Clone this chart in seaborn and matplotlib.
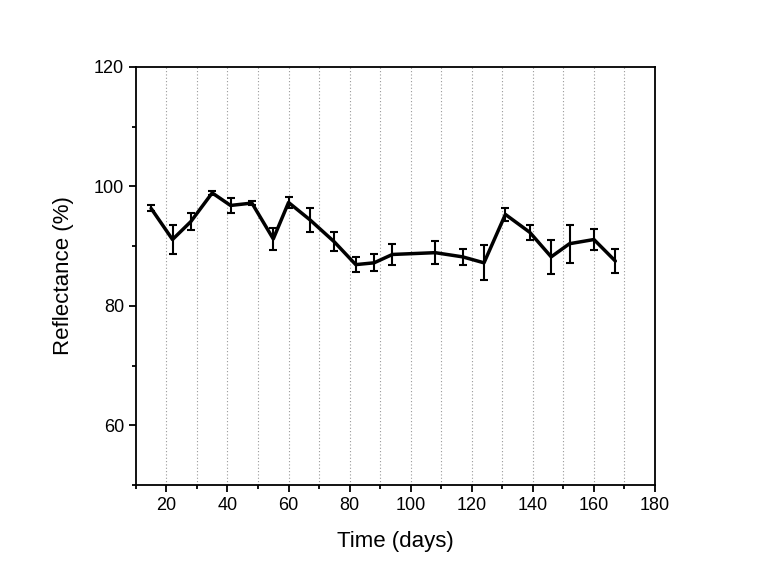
import numpy as np
import pandas as pd
import seaborn as sns
import matplotlib.pyplot as plt
from matplotlib.ticker import MultipleLocator

# measured reflectance over time
days = [15, 22, 28, 35, 41, 48, 55, 60, 67, 75, 82, 88, 94, 108, 117, 124, 131, 139, 146, 152, 160, 167]
reflectance = [96.3, 91.1, 94.1, 98.9, 96.8, 97.2, 91.2, 97.3, 94.4, 90.7, 86.9, 87.2, 88.6,
               88.9, 88.2, 87.2, 95.3, 92.3, 88.2, 90.4, 91.1, 87.5]
errors = [0.5, 2.4, 1.4, 0.3, 1.2, 0.3, 1.8, 0.9, 2.0, 1.6, 1.3, 1.4, 1.7,
          1.9, 1.3, 2.9, 1.1, 1.3, 2.9, 3.2, 1.8, 2.0]

df = pd.DataFrame({"Time": days, "Reflectance": reflectance, "Error": errors})

sns.set_style("ticks")
plt.rcParams['font.family'] = ['Liberation Sans', 'DejaVu Sans']
plt.rcParams['text.color'] = 'black'
plt.rcParams['axes.labelcolor'] = 'black'
plt.rcParams['xtick.color'] = 'black'
plt.rcParams['ytick.color'] = 'black'

fig, ax = plt.subplots(figsize=(7.59, 5.81), dpi=100)
fig.subplots_adjust(left=0.179, right=0.863, top=0.885, bottom=0.165)

# dotted vertical grid at every 10 days
for gx in range(20, 180, 10):
    ax.axvline(gx, color="#999999", linestyle=(0, (1, 2)), linewidth=0.8, zorder=0)

sns.lineplot(data=df, x="Time", y="Reflectance", color="black", linewidth=2.5, ax=ax)
ax.errorbar(df["Time"], df["Reflectance"], yerr=df["Error"], fmt="none",
            ecolor="black", elinewidth=1.5, capsize=3, capthick=1.5)

ax.set_xlim(10, 180)
ax.set_ylim(50, 120)
ax.xaxis.set_minor_locator(MultipleLocator(10))
ax.yaxis.set_minor_locator(MultipleLocator(10))
ax.set_xticks([20, 40, 60, 80, 100, 120, 140, 160, 180])
ax.set_yticks([60, 80, 100, 120])
ax.tick_params(which="major", direction="out", length=5, width=1.3, labelsize=13)
ax.tick_params(which="minor", direction="out", length=3, width=1.3)

for s in ax.spines.values():
    s.set_linewidth(1.3)
    s.set_color("black")

ax.set_xlabel("Time (days)", fontsize=16, labelpad=12)
ax.set_ylabel("Reflectance (%)", fontsize=16, labelpad=14)

plt.savefig("out.png", dpi=100)
